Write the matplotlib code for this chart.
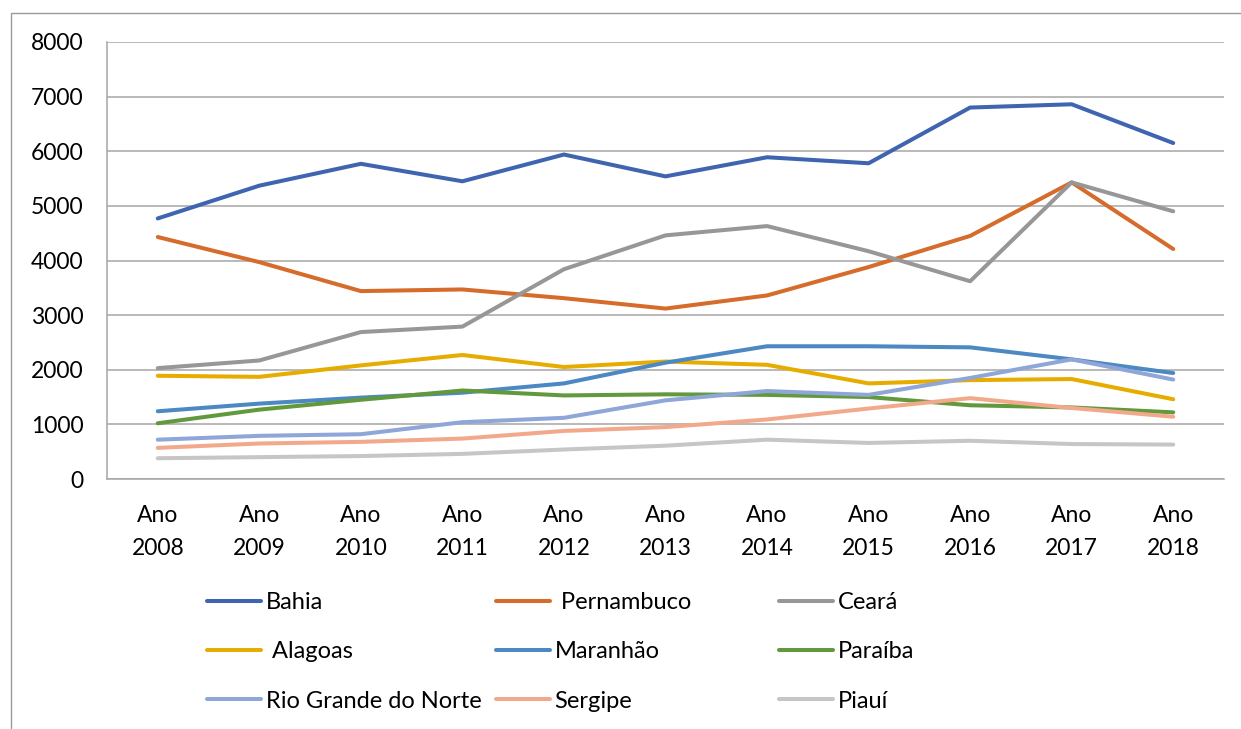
import matplotlib
matplotlib.use("Agg")
import matplotlib.pyplot as plt
from matplotlib.patches import Rectangle

# Values
years = ["Ano\n2008", "Ano\n2009", "Ano\n2010", "Ano\n2011", "Ano\n2012", "Ano\n2013",
         "Ano\n2014", "Ano\n2015", "Ano\n2016", "Ano\n2017", "Ano\n2018"]
bahia = [4770, 5370, 5770, 5450, 5940, 5540, 5890, 5780, 6800, 6860, 6150]
pernambuco = [4430, 3970, 3440, 3470, 3310, 3120, 3360, 3880, 4450, 5430, 4210]
ceara = [2030, 2170, 2690, 2790, 3840, 4460, 4630, 4170, 3620, 5430, 4900]
alagoas = [1890, 1870, 2080, 2270, 2050, 2150, 2090, 1750, 1810, 1830, 1460]
maranhao = [1240, 1380, 1490, 1580, 1750, 2130, 2430, 2430, 2410, 2190, 1940]
paraiba = [1020, 1270, 1450, 1620, 1530, 1550, 1540, 1500, 1350, 1310, 1220]
rio_grande_norte = [720, 790, 820, 1040, 1120, 1440, 1610, 1540, 1850, 2190, 1820]
sergipe = [570, 650, 680, 740, 880, 950, 1090, 1290, 1480, 1300, 1140]
piaui = [380, 400, 420, 460, 540, 610, 720, 660, 700, 640, 630]

series = [
    ("Bahia", bahia, "#3F65B1"),
    (" Pernambuco", pernambuco, "#D66C2B"),
    ("Ceará", ceara, "#979797"),
    (" Alagoas", alagoas, "#E6AD00"),
    ("Maranhão", maranhao, "#4C88C1"),
    ("Paraíba", paraiba, "#62993D"),
    ("Rio Grande do Norte", rio_grande_norte, "#8FA6D8"),
    ("Sergipe", sergipe, "#F2A98B"),
    ("Piauí", piaui, "#C6C6C6"),
]

plt.rcParams["font.family"] = ["Lato", "DejaVu Sans"]

W, H = 1241, 729
fig = plt.figure(figsize=(W / 100, H / 100), dpi=100)
fig.patch.set_facecolor("white")

# chart-area border (right and bottom edges fall outside the image)
fig.patches.append(Rectangle((11 / W, -0.1), 1.2, 1 - 13 / H + 0.1,
                             transform=fig.transFigure, fill=False,
                             edgecolor="#9A9A9A", linewidth=1.0))

ax = fig.add_axes([107 / W, 1 - 479 / H, (1224 - 107) / W, (479 - 42) / H])

x = list(range(len(years)))
lines = {}
for name, vals, color in series:
    (ln,) = ax.plot(x, vals, color=color, linewidth=2.9, label=name,
                    solid_capstyle="round", solid_joinstyle="round")
    lines[name] = ln

ax.set_xlim(-0.5, len(years) - 0.5)
ax.set_ylim(0, 8000)
ax.set_yticks(range(0, 8001, 1000))
ax.set_xticks(x)
ax.set_xticklabels(years, linespacing=1.7)

ax.grid(axis="y", color="#A6A6A6", linewidth=1.1)
ax.set_axisbelow(True)
for side in ("top", "right"):
    ax.spines[side].set_visible(False)
for side in ("left", "bottom"):
    ax.spines[side].set_color("#A6A6A6")
    ax.spines[side].set_linewidth(1.1)
ax.tick_params(axis="both", length=0, labelsize=16.5, colors="black")
ax.tick_params(axis="y", pad=17)
ax.tick_params(axis="x", pad=19)

# legend: three columns placed like the original
columns = [
    (["Bahia", " Alagoas", "Rio Grande do Norte"], 207),
    ([" Pernambuco", "Maranhão", "Sergipe"], 496),
    (["Ceará", "Paraíba", "Piauí"], 779),
]
for names, left in columns:
    fig.legend([lines[n] for n in names], names,
               loc="upper left", bbox_to_anchor=(left / W, 1 - 592 / H),
               frameon=False, fontsize=17, handlelength=2.3,
               handletextpad=0.18, labelspacing=1.2, borderpad=0,
               borderaxespad=0)

fig.savefig("out.png", dpi=100, facecolor="white")
